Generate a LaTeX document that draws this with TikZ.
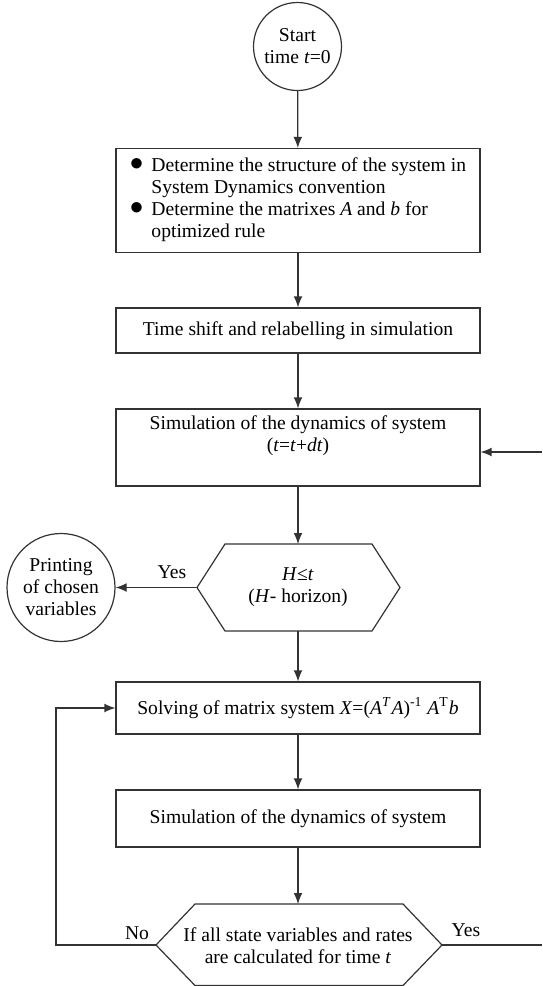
\documentclass[tikz,border=0pt]{standalone}
\usepackage{fontspec}
\setmainfont{Liberation Serif}
\usetikzlibrary{arrows.meta,calc}

\definecolor{lc}{HTML}{333333}

\begin{document}
\begin{tikzpicture}[x=0.5pt,y=-0.5pt,
  font=\fontsize{9.8}{11}\selectfont,
  ln/.style={draw=lc, line width=0.6pt},
  arr/.style={ln, -{Latex[length=5.5pt,width=4.4pt]}},
  box/.style={ln, rectangle, minimum width=182pt, inner sep=0pt, align=center},
  circ/.style={ln, circle, inner sep=0pt, align=center},
  lbl/.style={inner sep=0pt, align=center}]

\useasboundingbox (0,0) rectangle (542,986);

% start terminal
\node[circ, minimum size=44pt] (start) at (297.5,46.5) {Start\\time \textit{t}=0};

% preparation block with two bullet items
\node[box, minimum height=52pt] (b1) at (298,200.5) {%
  \begin{tabular}{@{}l@{\hspace{4pt}}l@{}}
  \raisebox{0.2ex}{\scalebox{1.35}{$\bullet$}} & Determine the structure of the system in\\
   & System Dynamics convention\\
  \raisebox{0.2ex}{\scalebox{1.35}{$\bullet$}} & Determine the matrixes \textit{A} and \textit{b} for\\
   & optimized rule
  \end{tabular}};

\node[box, minimum height=22.5pt] (b2) at (298,330.5) {Time shift and relabelling in simulation};

% simulation step, text sits in the upper part of the box
\node[box, minimum height=38.5pt] (b3) at (298,447.5) {};
\node[lbl] (b3t) at (298,436) {Simulation of the dynamics of system\\(\textit{t}=\textit{t}+\textit{dt})};
\coordinate (rin) at (542,452);

% horizon test (hexagon)
\coordinate (h1N) at (298,544);
\coordinate (h1S) at (298,631);
\coordinate (h1L) at (197,587.5);
\coordinate (h1R) at (400,587.5);
\draw[ln] (225,544) -- (372,544) -- (h1R) -- (372,631) -- (225,631) -- (h1L) -- cycle;
\node[lbl] (h1) at (298,587.5) {\textit{H}≤\textit{t}\\(\textit{H}- horizon)};

% output terminal
\node[circ, minimum size=54pt] (pr) at (61,587.5) {Printing\\of chosen\\variables};

\node[box, minimum height=26pt] (sv) at (298,708) {Solving of matrix system \textit{X}=(\textit{A}\textsuperscript{\textit{T}}\textit{A})\textsuperscript{-1} \textit{A}\textsuperscript{T}\textit{b}};

\node[box, minimum height=28.5pt] (sm) at (298,818.5) {Simulation of the dynamics of system};

% completion test (hexagon)
\coordinate (h2N) at (298,904);
\coordinate (h2L) at (156,945);
\coordinate (h2R) at (442,945);
\draw[ln] (195,904) -- (403,904) -- (h2R) -- (403,985.5) -- (195,985.5) -- (h2L) -- cycle;
\node[lbl] (h2) at (298,946) {If all state variables and rates\\are calculated for time \textit{t}};
\coordinate (fb) at (56,945);
\coordinate (rout) at (542,945);

% connectors
\draw[arr] (start) -- (b1);
\draw[arr] (b1) -- (b2);
\draw[arr] (b2) -- (b3);
\draw[arr] (rin) -- (rin -| b3.east);
\draw[arr] (b3) -- (h1N);
\draw[arr] (h1L) -- (pr);
\draw[arr] (h1S) -- (sv);
\draw[arr] (sv) -- (sm);
\draw[arr] (sm) -- (h2N);
\draw[arr] (h2L) -- (fb) |- (sv.west);
\draw[ln] (h2R) -- (rout);

% branch labels
\node[lbl] (yes1) at (172,572) {Yes};
\node[lbl] (no2) at (137,933) {No};
\node[lbl] (yes2) at (466,930) {Yes};

\end{tikzpicture}
\end{document}
